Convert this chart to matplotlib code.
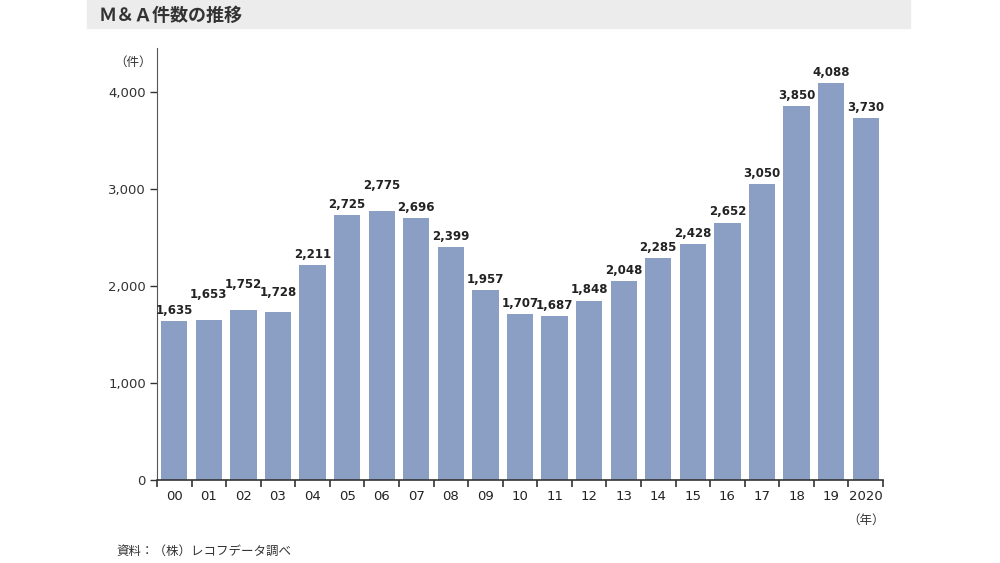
import matplotlib
matplotlib.use("Agg")
import numpy as np
import matplotlib.pyplot as plt
from matplotlib.patches import Rectangle

plt.rcParams['font.family'] = ['DejaVu Sans', 'Noto Sans CJK JP']

# データ
years = ['00', '01', '02', '03', '04', '05', '06', '07', '08', '09', '10',
         '11', '12', '13', '14', '15', '16', '17', '18', '19', '2020']
counts = [1635, 1653, 1752, 1728, 2211, 2725, 2775, 2696, 2399, 1957, 1707,
          1687, 1848, 2048, 2285, 2428, 2652, 3050, 3850, 4088, 3730]
yticks = [0, 1000, 2000, 3000, 4000]

fig = plt.figure(figsize=(10, 5.63), dpi=100)

# タイトル帯
fig.patches.append(Rectangle((0.087, 1 - 28 / 563), 0.823, 28 / 563,
                             transform=fig.transFigure, color='#ececec', zorder=0))
fig.text(0.099, 1 - 15 / 563, 'Ｍ＆Ａ件数の推移', fontsize=13, fontweight='bold',
         color='#333333', va='center', family=['Noto Sans CJK JP'])

ax = fig.add_axes([0.157, 1 - 480 / 563, 0.726, 432 / 563])
x = np.arange(len(years))
ax.bar(x, counts, width=0.76, color='#8a9fc3', zorder=2)

# ラベルが重なる所は少し上にずらす
lift = {1: 150, 2: 150, 3: 90, 6: 150}
for xi, v in zip(x, counts):
    ax.text(xi, v + 45 + lift.get(xi, 0), f'{v:,}', ha='center', va='bottom',
            fontsize=8.5, fontweight='bold', color='#222222')

ax.set_xlim(-0.5, len(years) - 0.5)
ax.set_ylim(0, 4450)
ax.set_yticks(yticks)
ax.set_yticklabels([f'{t:,}' for t in yticks])
ax.set_xticks(x)
ax.set_xticklabels(years)
ax.set_xticks(np.arange(-0.5, len(years)), minor=True)

ax.tick_params(axis='x', which='major', length=0, pad=7, labelsize=9.5, colors='#222222')
ax.tick_params(axis='x', which='minor', length=5, width=1.2, direction='out', color='#333333')
ax.tick_params(axis='y', length=5, width=1, direction='out', pad=3, labelsize=9.5,
               colors='#222222')
ax.tick_params(axis='y', colors='#333333')

for s in ['top', 'right']:
    ax.spines[s].set_visible(False)
ax.spines['left'].set_color('#555555')
ax.spines['bottom'].set_color('#333333')
ax.spines['bottom'].set_linewidth(1.2)

fig.text(0.114, 1 - 62 / 563, '（件）', fontsize=9, ha='left', va='center',
         color='#333333', family=['Noto Sans CJK JP'])
fig.text(0.847, 1 - 520 / 563, '（年）', fontsize=9, ha='left', va='center',
         color='#333333', family=['Noto Sans CJK JP'])
fig.text(0.116, 1 - 551 / 563, '資料：（株）レコフデータ調べ', fontsize=9, ha='left',
         va='center', color='#333333', family=['Noto Sans CJK JP'])

fig.savefig('out.png', dpi=100)
